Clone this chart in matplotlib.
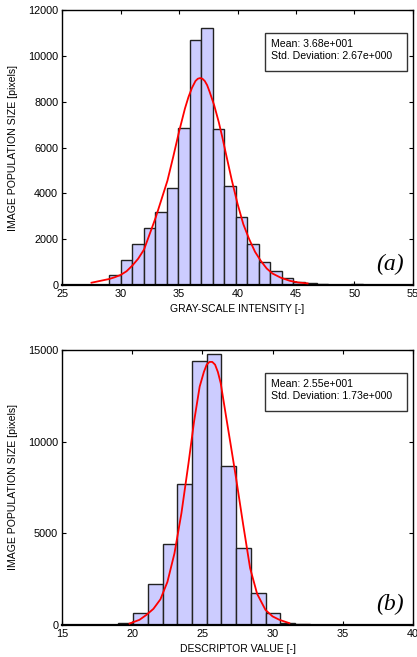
import numpy as np
import matplotlib
matplotlib.use('Agg')
from matplotlib import pyplot as plt
from matplotlib.patches import Rectangle

plt.rcParams['font.family'] = ['Liberation Sans', 'DejaVu Sans']

# (a) gray-scale intensity histogram
a_edge0 = 29.0
a_width = 0.987
a_counts = [420, 1070, 1775, 2500, 3200, 4230, 6870, 10700, 11220, 6820, 4330,
            2950, 1800, 1020, 610, 300, 150, 70, 30, 12, 8, 60]
a_fit_x = [27.5, 28.2, 29.0, 29.5, 30.0, 30.5, 31.0, 31.5, 32.0, 32.5, 33.0, 33.5,
           34.0, 34.5, 35.0, 35.5, 35.8, 36.1, 36.4, 36.6, 36.8, 37.0, 37.2, 37.4,
           37.6, 38.0, 38.4, 38.7, 39.0, 39.5, 40.0, 40.5, 41.0, 41.5, 42.0, 42.5,
           43.0, 43.7, 44.5, 45.2, 46.0]
a_fit_y = [100, 175, 260, 340, 440, 600, 850, 1150, 1550, 2250, 2950, 3750,
           4550, 5600, 6700, 7700, 8200, 8600, 8900, 9000, 9030, 9000, 8900, 8720,
           8450, 7850, 7100, 6450, 5750, 4600, 3550, 2650, 2000, 1450, 1050, 720,
           500, 320, 180, 110, 70]
a_stats = ['Mean: 3.68e+001', 'Std. Deviation: 2.67e+000']

# (b) descriptor value histogram
b_edge0 = 19.0
b_width = 1.05
b_counts = [90, 640, 2240, 4440, 7670, 14400, 14780, 8690, 4220, 1730, 640, 130, 30, 8]
b_fit_x = [19.8, 20.5, 21.0, 21.5, 22.0, 22.5, 23.0, 23.5, 24.0, 24.4, 24.8, 25.1,
           25.3, 25.5, 25.7, 25.9, 26.1, 26.3, 26.7, 27.0, 27.4, 27.9, 28.4, 28.9,
           29.5, 30.0, 30.5, 31.2]
b_fit_y = [80, 280, 550, 880, 1400, 2350, 3900, 6100, 8800, 11100, 13000, 13800,
           14200, 14350, 14350, 14200, 13800, 13200, 11300, 9900, 8000, 5500, 3100, 1700,
           820, 470, 280, 100]
b_stats = ['Mean: 2.55e+001', 'Std. Deviation: 1.73e+000']

W, H = 417, 657
fig = plt.figure(figsize=(W / 100, H / 100), dpi=100)
ax1 = fig.add_axes([62.3 / W, 1 - 285 / H, 350.4 / W, 275 / H])
ax2 = fig.add_axes([62.3 / W, 1 - 625 / H, 350.4 / W, 275 / H])


def panel(ax, edge0, width, counts, fx, fy, stats, xlim, ylim, yticks, xlabel, tag):
    left = edge0 + width * np.arange(len(counts))
    ax.bar(left, counts, width=width, align='edge', color='#ccccff',
           edgecolor='#222222', linewidth=1.0, zorder=2)
    ax.plot(fx, fy, color='red', linewidth=1.3, zorder=3,
            solid_joinstyle='round')
    ax.set_xlim(*xlim)
    ax.set_ylim(*ylim)
    ax.set_xticks(np.arange(xlim[0], xlim[1] + 1, 5))
    ax.set_yticks(yticks)
    ax.tick_params(direction='in', top=True, right=True, length=3, width=0.8,
                   labelsize=7.8, pad=3, colors='black')
    for s in ax.spines.values():
        s.set_linewidth(1.0)
    ax.spines['bottom'].set_linewidth(1.6)
    ax.set_xlabel(xlabel, fontsize=7.5)
    ax.set_ylabel('IMAGE POPULATION SIZE [pixels]', fontsize=7.6)
    ax.yaxis.set_label_coords(-0.125, 0.5)
    ax.xaxis.set_label_coords(0.5, -0.07)
    ax.add_patch(Rectangle((0.578, 0.777), 0.405, 0.139, transform=ax.transAxes,
                           facecolor='white', edgecolor='#333333', linewidth=1.0,
                           zorder=4))
    ax.text(0.596, 0.878, stats[0], transform=ax.transAxes, fontsize=7.6,
            va='center', zorder=5)
    ax.text(0.596, 0.833, stats[1], transform=ax.transAxes, fontsize=7.6,
            va='center', zorder=5)
    ax.text(0.975, 0.035, tag, transform=ax.transAxes, ha='right', va='bottom',
            fontsize=17, family='Liberation Serif', style='italic', zorder=5)


panel(ax1, a_edge0, a_width, a_counts, a_fit_x, a_fit_y, a_stats, (25, 55),
      (0, 12000), np.arange(0, 12001, 2000), 'GRAY-SCALE INTENSITY [-]', '(a)')
panel(ax2, b_edge0, b_width, b_counts, b_fit_x, b_fit_y, b_stats, (15, 40),
      (0, 15000), [0, 5000, 10000, 15000], 'DESCRIPTOR VALUE [-]', '(b)')

fig.savefig('out.png', dpi=100)
